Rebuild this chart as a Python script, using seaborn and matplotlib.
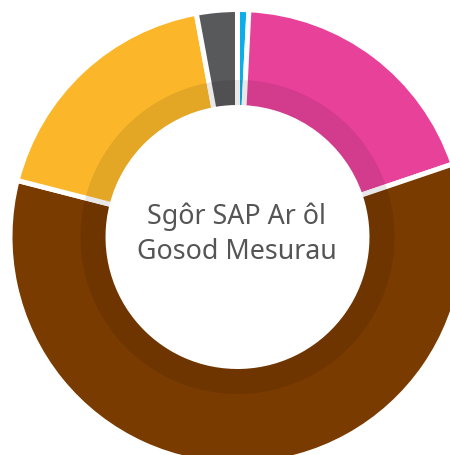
"""Donut chart: SAP score after installing measures."""

import matplotlib.pyplot as plt
import seaborn as sns

sns.set_theme(style="white")
plt.rcParams["font.family"] = ["Noto Sans", "DejaVu Sans"]

# shares of homes per band, clockwise from 12 o'clock
bands = ["Band 1", "Band 2", "Band 3", "Band 4", "Band 5"]
shares = [0.8, 19.0, 59.2, 18.1, 2.9]
band_colors = ["#0BAEE8", "#E8419A", "#7A3B00", "#FBB729", "#58595B"]
title_lines = ["Sgôr SAP Ar ôl", "Gosod Mesurau"]

W, H = 450, 455
cx, cy = 237.5, H - 237
gap = 5  # white separator, px

fig = plt.figure(figsize=(W / 100, H / 100), dpi=100)
ax = fig.add_axes([0, 0, 1, 1])

ax.pie(
    shares,
    colors=band_colors,
    startangle=90,
    counterclock=False,
    center=(cx, cy),
    radius=225 + gap / 2,
    wedgeprops=dict(width=93 + gap, edgecolor="white", linewidth=gap * 0.72),
)

# soft inner shadow band around the hole
ax.pie(
    [1],
    colors=["black"],
    center=(cx, cy),
    radius=157,
    wedgeprops=dict(width=25, linewidth=0, alpha=0.09),
)

ax.text(cx - 1, H - 224, title_lines[0], ha="center", va="baseline",
        fontsize=19.3, color="#555555")
ax.text(cx - 1, H - 259, title_lines[1], ha="center", va="baseline",
        fontsize=19.3, color="#555555")

ax.set_xlim(0, W)
ax.set_ylim(0, H)
ax.set_aspect("equal")
ax.axis("off")

fig.savefig("out.png", dpi=100)
